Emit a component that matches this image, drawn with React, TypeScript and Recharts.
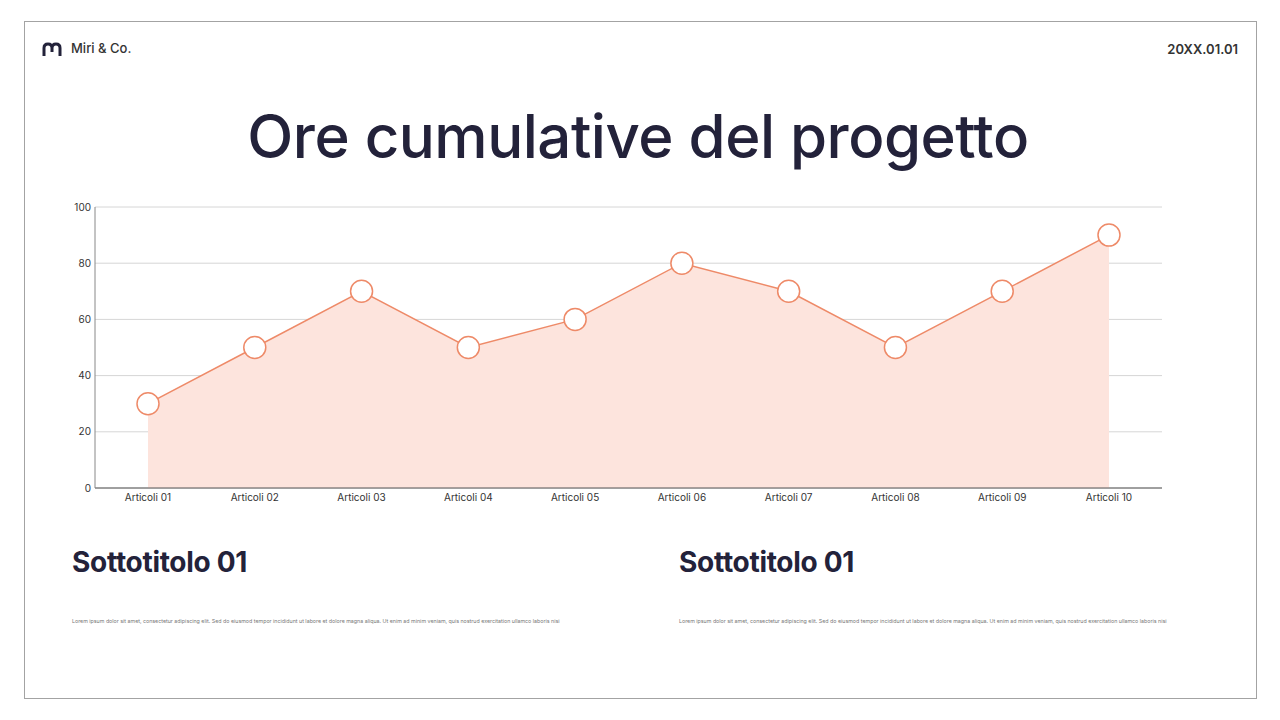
import { AreaChart, Area, XAxis, YAxis, CartesianGrid } from "recharts";

const categories = [
    "Articoli 01", "Articoli 02", "Articoli 03", "Articoli 04", "Articoli 05",
    "Articoli 06", "Articoli 07", "Articoli 08", "Articoli 09", "Articoli 10",
];
const hours = [30, 50, 70, 50, 60, 80, 70, 50, 70, 90];
const yTicks = [0, 20, 40, 60, 80, 100];

const title = "Ore cumulative del progetto";
const subtitles = ["Sottotitolo 01", "Sottotitolo 01"];
const lorem =
    "Lorem ipsum dolor sit amet, consectetur adipiscing elit. Sed do eiusmod tempor incididunt ut labore et dolore magna aliqua. Ut enim ad minim veniam, quis nostrud exercitation ullamco laboris nisi";

const data = categories.map((name, i) => ({ name, value: hours[i] }));

const NAVY = "#23223a";
const ORANGE = "#ee8a68";
const FONT = "Inter, 'Noto Sans', sans-serif";

export default function App() {
    return (
        <div style={{ position: "fixed", left: 0, top: 0, width: 1280, height: 720, background: "#fff", fontFamily: FONT, overflow: "hidden" }}>
            <div style={{ position: "absolute", left: 24, top: 21, width: 1231, height: 676, border: "1px solid #a3a3a3" }} />

            {/* logo */}
            <svg style={{ position: "absolute", left: 40, top: 40 }} width={24} height={20}>
                <path d="M4 16 V8 Q4 4 8 4 Q12 4 12 8 V12 M12 8 Q12 4 16 4 Q20 4 20 8 V16" fill="none" stroke={NAVY} strokeWidth={3} strokeLinecap="butt" />
            </svg>
            <div style={{ position: "absolute", left: 71, top: 40, fontSize: 13, color: "#333", fontWeight: 500 }}>Miri &amp; Co.</div>
            <div style={{ position: "absolute", right: 42, top: 41, fontSize: 13, color: "#333", fontWeight: 600 }}>20XX.01.01</div>

            <div style={{ position: "absolute", left: 0, width: 1276, top: 100, textAlign: "center", fontSize: 60, fontWeight: 500, color: NAVY, letterSpacing: -0.5 }}>
                {title}
            </div>

            <div style={{ position: "absolute", left: 0, top: 0 }}>
                <AreaChart width={1280} height={530} data={data} margin={{ top: 207, right: 118, bottom: 12, left: 65 }}>
                    <CartesianGrid horizontal vertical={false} stroke="#d6d6d6" />
                    <XAxis
                        dataKey="name"
                        padding={{ left: 53, right: 53 }}
                        tickLine={false}
                        tickSize={2}
                        tickMargin={4}
                        axisLine={{ stroke: "#555" }}
                        tick={{ fontSize: 10, fill: "#333", fontFamily: FONT }}
                        interval={0}
                        height={30}
                    />
                    <YAxis
                        domain={[0, 100]}
                        ticks={yTicks}
                        width={30}
                        tickLine={false}
                        tickSize={2}
                        tickMargin={2}
                        axisLine={{ stroke: "#888" }}
                        tick={{ fontSize: 10, fill: "#333", fontFamily: FONT }}
                    />
                    <Area
                        type="linear"
                        dataKey="value"
                        stroke={ORANGE}
                        strokeWidth={1.5}
                        fill="#fde4dd"
                        fillOpacity={1}
                        dot={{ r: 11, fill: "#fff", stroke: ORANGE, strokeWidth: 1.5 }}
                        activeDot={false}
                        isAnimationActive={false}
                    />
                </AreaChart>
            </div>

            {subtitles.map((s, i) => (
                <div key={i} style={{ position: "absolute", left: 72 + i * 607, top: 545 }}>
                    <div style={{ fontSize: 28, lineHeight: "34px", fontWeight: 700, color: NAVY, letterSpacing: -0.3 }}>{s}</div>
                    <div style={{ marginTop: 39, fontSize: 5.3, color: "#777", whiteSpace: "nowrap" }}>{lorem}</div>
                </div>
            ))}
        </div>
    );
}
